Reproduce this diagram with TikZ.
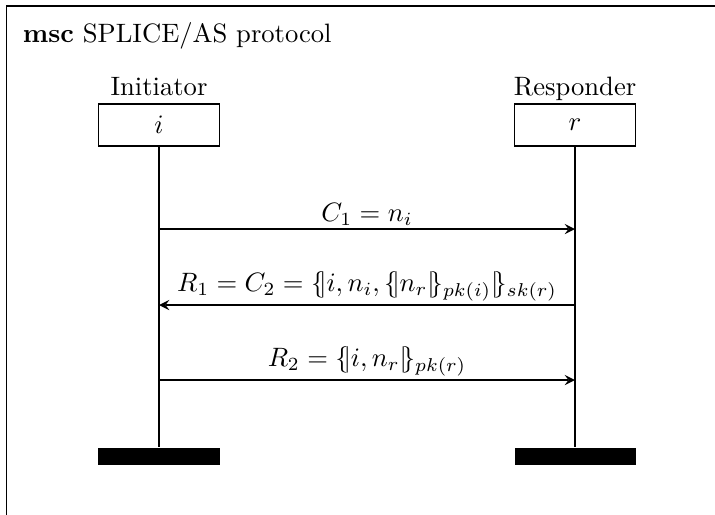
\documentclass[tikz,border=0pt]{standalone}
\usetikzlibrary{positioning}
\newcommand{\msgenc}[1]{\{\kern-0.45ex|#1|\kern-0.45ex\}}
\tikzset{
  instbox/.style={draw, minimum width=45.5pt, minimum height=15.6pt, inner sep=0pt},
  endbar/.style={fill=black, minimum width=45.5pt, minimum height=6.4pt, inner sep=0pt},
  msglabel/.style={above, inner sep=1pt},
}
\begin{document}
\begin{tikzpicture}[>=stealth, x=0.376pt, y=-0.376pt, line width=0.7pt]
    \useasboundingbox (0,0) rectangle (715,514);
    \clip (0,0) rectangle (715,514);
    % 枠
    \draw (6.5,6) rectangle (760,560);
    \node[anchor=base west, inner sep=0pt] (title) at (22,42) {\textbf{msc} SPLICE/AS protocol};

    % インスタンス
    \node[instbox] (ibox) at (159,125) {$i$};
    \node[instbox] (rbox) at (575,125) {$r$};
    \node[above=2.9pt of ibox, anchor=base] (ilabel) {Initiator};
    \node[above=2.9pt of rbox, anchor=base] (rlabel) {Responder};
    \node[endbar] (iend) at (159,456) {};
    \node[endbar] (rend) at (575,456) {};
    \draw (ibox) -- (iend);
    \draw (rbox) -- (rend);

    % メッセージ
    \foreach \n/\y in {1/229, 2/305, 3/380} {
      \coordinate (i\n) at (ibox.south |- 0,\y);
      \coordinate (r\n) at (rbox.south |- 0,\y);
    }
    \draw[->] (i1) -- (r1) node[midway, msglabel] {$C_1 = n_i$};
    \draw[->] (r2) -- (i2) node[midway, msglabel] {$R_1 = C_2 = \msgenc{i, n_i, \msgenc{n_r}_{pk(i)}}_{sk(r)}$};
    \draw[->] (i3) -- (r3) node[midway, msglabel] {$R_2 = \msgenc{i, n_r}_{pk(r)}$};
\end{tikzpicture}
\end{document}
